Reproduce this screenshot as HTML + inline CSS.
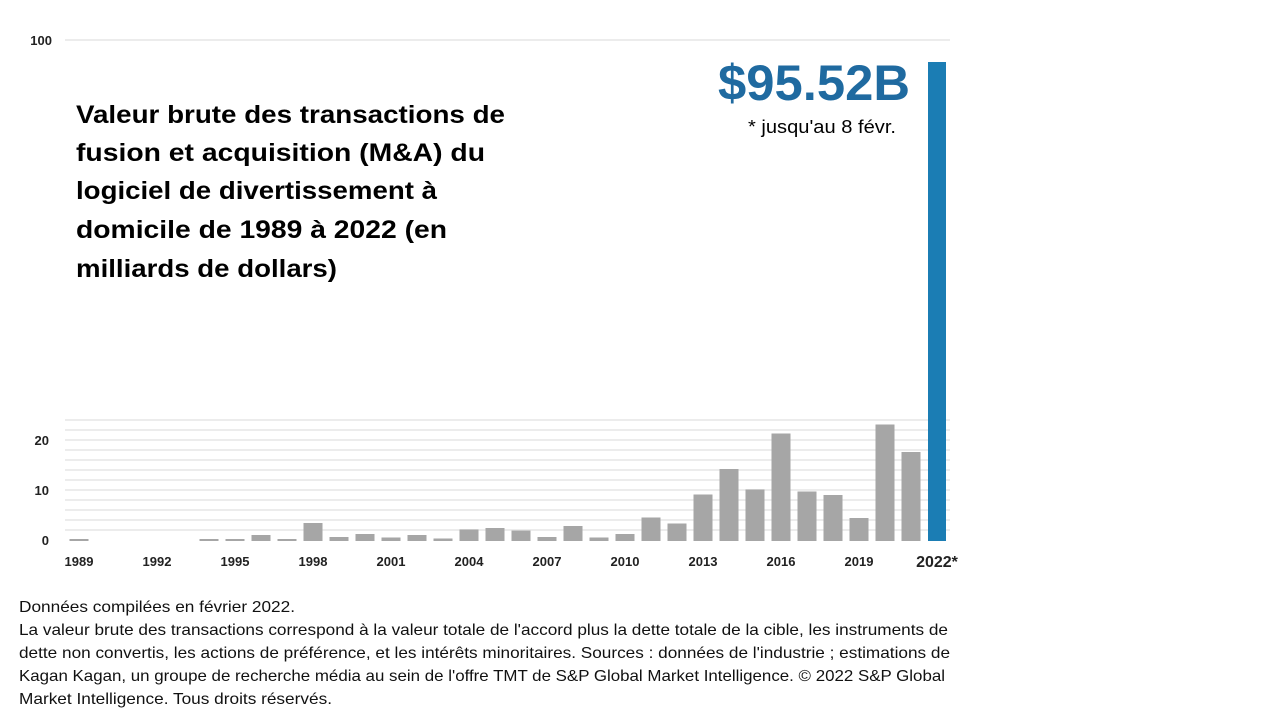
<!DOCTYPE html>
<html><head><meta charset="utf-8"><style>
html,body{margin:0;padding:0;background:#fff;width:1280px;height:720px;overflow:hidden}
svg{display:block}
</style></head><body>
<svg width="1280" height="720" viewBox="0 0 1280 720" xmlns="http://www.w3.org/2000/svg" font-family="Liberation Sans, sans-serif">
<g stroke="#ececec" stroke-width="2">
<line x1="65" y1="40" x2="950" y2="40"/>
<line x1="65" y1="420" x2="950" y2="420"/>
<line x1="65" y1="430" x2="950" y2="430"/>
<line x1="65" y1="440" x2="950" y2="440"/>
<line x1="65" y1="450" x2="950" y2="450"/>
<line x1="65" y1="460" x2="950" y2="460"/>
<line x1="65" y1="470" x2="950" y2="470"/>
<line x1="65" y1="480" x2="950" y2="480"/>
<line x1="65" y1="490" x2="950" y2="490"/>
<line x1="65" y1="500" x2="950" y2="500"/>
<line x1="65" y1="510" x2="950" y2="510"/>
<line x1="65" y1="520" x2="950" y2="520"/>
<line x1="65" y1="530" x2="950" y2="530"/>
</g>
<g fill="#222" font-size="13" font-weight="bold" text-anchor="end">
<text x="52" y="45">100</text>
<text x="49" y="445">20</text>
<text x="49" y="495">10</text>
<text x="49" y="545">0</text>
</g>
<g id="bars" fill="#a6a6a6"></g>
<rect x="928" y="62" width="18" height="479" fill="#1b7db4"/>
<g fill="#222" font-size="13" font-weight="bold" text-anchor="middle">
<text x="79" y="566">1989</text><text x="157" y="566">1992</text><text x="235" y="566">1995</text>
<text x="313" y="566">1998</text><text x="391" y="566">2001</text><text x="469" y="566">2004</text>
<text x="547" y="566">2007</text><text x="625" y="566">2010</text><text x="703" y="566">2013</text>
<text x="781" y="566">2016</text><text x="859" y="566">2019</text>
<text x="937" y="567" font-size="16">2022*</text>
</g>
<text x="718" y="100" font-size="50" font-weight="bold" fill="#1f6aa0" textLength="192" lengthAdjust="spacingAndGlyphs">$95.52B</text>
<text x="748" y="133" font-size="18" fill="#000" textLength="148" lengthAdjust="spacingAndGlyphs">* jusqu'au 8 févr.</text>
<g font-size="25" font-weight="bold" fill="#000">
<text x="76" y="123" textLength="429" lengthAdjust="spacingAndGlyphs">Valeur brute des transactions de</text>
<text x="76" y="161" textLength="409" lengthAdjust="spacingAndGlyphs">fusion et acquisition (M&amp;A) du</text>
<text x="76" y="199" textLength="361" lengthAdjust="spacingAndGlyphs">logiciel de divertissement à</text>
<text x="76" y="238" textLength="371" lengthAdjust="spacingAndGlyphs">domicile de 1989 à 2022 (en</text>
<text x="76" y="277" textLength="261" lengthAdjust="spacingAndGlyphs">milliards de dollars)</text>
</g>
<g font-size="16" fill="#111">
<text x="19" y="612" textLength="276" lengthAdjust="spacingAndGlyphs">Données compilées en février 2022.</text>
<text x="19" y="635" textLength="929" lengthAdjust="spacingAndGlyphs">La valeur brute des transactions correspond à la valeur totale de l'accord plus la dette totale de la cible, les instruments de</text>
<text x="19" y="658" textLength="931" lengthAdjust="spacingAndGlyphs">dette non convertis, les actions de préférence, et les intérêts minoritaires. Sources : données de l'industrie ; estimations de</text>
<text x="19" y="681" textLength="926" lengthAdjust="spacingAndGlyphs">Kagan Kagan, un groupe de recherche média au sein de l'offre TMT de S&amp;P Global Market Intelligence. © 2022 S&amp;P Global</text>
<text x="19" y="704" textLength="313" lengthAdjust="spacingAndGlyphs">Market Intelligence. Tous droits réservés.</text>
</g>
</svg>
<script>
var v=[0.3,0,0,0,0,0.2,0.2,1.2,0.3,3.6,0.8,1.4,0.7,1.2,0.5,2.3,2.6,2.1,0.8,3.0,0.7,1.4,4.7,3.5,9.3,14.4,10.3,21.5,9.9,9.2,4.6,23.3,17.8];
var g=document.getElementById('bars'),s='';
for(var i=0;i<v.length;i++){if(v[i]<=0)continue;var h=Math.max(v[i]*5,2);var x=79+26*i-9.5;
s+='<rect x="'+x+'" y="'+(541-h)+'" width="19" height="'+h+'"/>';}
g.innerHTML=s;
</script>
</body></html>
